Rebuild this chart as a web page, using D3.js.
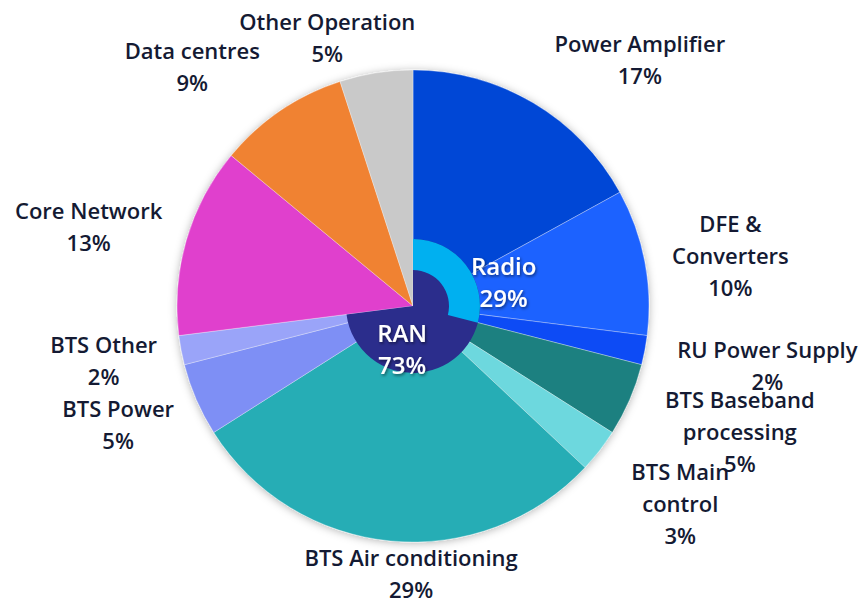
<!DOCTYPE html>
<html>
<head>
<meta charset="utf-8">
<script src="https://cdn.jsdelivr.net/npm/d3@7"></script>
<style>
  body { margin: 0; background: #fff; }
  svg { display: block; font-family: "Open Sans", "Noto Sans", sans-serif; }
</style>
</head>
<body>
<svg id="chart" width="864" height="600"></svg>
<script>
"use strict";

// outer ring, clockwise from 12 o'clock
const segments = ["Power Amplifier", "DFE &\nConverters", "RU Power Supply", "BTS Baseband\nprocessing",
                  "BTS Main\ncontrol", "BTS Air conditioning", "BTS Power", "BTS Other",
                  "Core Network", "Data centres", "Other Operation"];
const shares = [17, 10, 2, 5, 3, 29, 5, 2, 13, 9, 5];
const segmentColors = ["#0047d6", "#1f62ff", "#0a4cf5", "#1b8080", "#6dd8de", "#25adb5",
                       "#7e8ff5", "#9aa4f9", "#e03fcd", "#f08233", "#c9c9c9"];

// inner groups, both start at 12 o'clock
const groups = ["Radio", "RAN"];
const groupShares = [29, 73];
const groupColors = ["#00b0f0", "#2b2d8c"];

// hand nudges for the label blocks (px), relative to the label arc point
const labelShift = [[65, 28], [5, 10], [42, 0], [35, 0], [16, 3], [28, -49],
                    [-3, -7], [3, -5], [-19, 10], [-42, 24], [-36, 46]];
const groupLabelShift = [[50, 9], [-36, 22]];

const cx = 413, cy = 306, radius = 236, lineH = 32;

const svg = d3.select("#chart");
const defs = svg.append("defs");

const pieShadow = defs.append("filter").attr("id", "pieShadow")
  .attr("x", "-20%").attr("y", "-20%").attr("width", "140%").attr("height", "140%");
pieShadow.append("feDropShadow").attr("dx", 0).attr("dy", 1)
  .attr("stdDeviation", 4).attr("flood-color", "#000").attr("flood-opacity", 0.3);

const textShadow = defs.append("filter").attr("id", "textShadow")
  .attr("x", "-20%").attr("y", "-30%").attr("width", "140%").attr("height", "160%");
textShadow.append("feDropShadow").attr("dx", 1).attr("dy", 1.5)
  .attr("stdDeviation", 1.5).attr("flood-color", "#000").attr("flood-opacity", 0.55);

const g = svg.append("g").attr("transform", `translate(${cx},${cy})`);

const pie = d3.pie().sort(null).value(d => d);
const arcs = pie(shares);

const arc = d3.arc().innerRadius(0).outerRadius(radius);
const labelArc = d3.arc().innerRadius(318).outerRadius(318);

g.append("g")
  .attr("filter", "url(#pieShadow)")
  .selectAll("path")
  .data(arcs)
  .enter()
  .append("path")
  .attr("d", arc)
  .attr("fill", (d, i) => segmentColors[i])
  .attr("stroke", "rgba(255,255,255,0.45)")
  .attr("stroke-width", 0.7);

// inner rings: RAN is a full sector, Radio a band laid over its start
const angle = d3.scaleLinear().domain([0, 100]).range([0, 2 * Math.PI]);
const innerArcs = [
  d3.arc().innerRadius(36).outerRadius(67).startAngle(0).endAngle(angle(groupShares[0])),
  d3.arc().innerRadius(0).outerRadius(67).startAngle(0).endAngle(angle(groupShares[1]))
];

g.append("path").attr("d", innerArcs[1]()).attr("fill", groupColors[1]);
g.append("path").attr("d", innerArcs[0]()).attr("fill", groupColors[0]);

const drawBlock = function(parent, lines, x, y, size, fill, filter){
  const top = y - (lines.length - 1) * lineH / 2 + 8;
  const t = parent.append("text")
    .attr("text-anchor", "middle")
    .attr("font-size", size + "px")
    .attr("font-weight", 600)
    .attr("fill", fill);
  if (filter) t.attr("filter", filter);
  lines.forEach(function(line, k){
    t.append("tspan").attr("x", x).attr("y", top + k * lineH).text(line);
  });
};

const labels = g.append("g");
arcs.forEach(function(d, i){
  const p = labelArc.centroid(d);
  const lines = segments[i].split("\n").concat([shares[i] + "%"]);
  drawBlock(labels, lines, p[0] + labelShift[i][0], p[1] + labelShift[i][1], 22, "#141a33");
});

groups.forEach(function(name, i){
  const p = innerArcs[i].centroid();
  drawBlock(labels, [name, groupShares[i] + "%"],
            p[0] + groupLabelShift[i][0], p[1] + groupLabelShift[i][1], 24, "#fff", "url(#textShadow)");
});
</script>
</body>
</html>
